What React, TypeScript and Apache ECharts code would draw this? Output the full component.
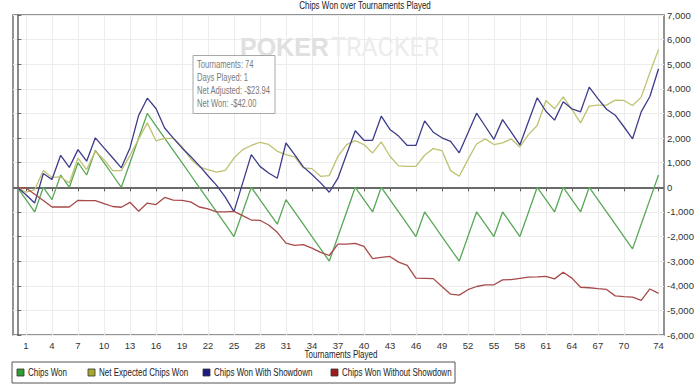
import React, { useEffect, useRef } from "react";
import * as echarts from "echarts";

// Tournament index 0..74
const chipsWon = [
  0, -500, -1000, 0, -500, 500, 0, 1000, 500, 1500, 1000, 500, 0, 1000, 2000, 3000,
  2500, 2000, 1500, 1000, 500, 0, -500, -1000, -1500, -2000, -1000, 0, -500, -1000,
  -1500, -500, -1000, -1500, -2000, -2500, -3000, -2000, -1000, 0, -500, -1000, 0,
  -500, -1000, -1500, -2000, -1000, -1500, -2000, -2500, -3000, -2000, -1000, -1500,
  -2000, -1000, -1500, -2000, -1000, 0, -500, -1000, 0, -500, -1000, 0, -500, -1000,
  -1500, -2000, -2500, -1500, -500, 500,
];
const netExpected = [
  0, -200, -100, 680, 400, 420, 176, 1190, 720, 1464, 1125, 680, 680, 1300, 1950, 2617,
  1890, 1990, 1990, 1650, 1150, 830, 720, 620, 690, 1190, 1530, 1700, 1830, 1740,
  1464, 1329, 1234, 786, 759, 447, 475, 1261, 1736, 1898, 1736, 1397, 1844, 1261,
  870, 854, 854, 1302, 1573, 1492, 678, 447, 1125, 1760, 1966, 1736, 1804, 1966,
  1641, 2150, 2510, 3528, 3189, 3677, 3161, 2619, 3297, 3338, 3338, 3541, 3528, 3324,
  3663, 4654, 5604,
];
const withShowdown = [
  0, -300, -640, 560, 320, 1300, 810, 1530, 1060, 2010, 1600, 1200, 790, 1600, 2920,
  3620, 3200, 2410, 2000, 1600, 1250, 880, 470, 80, -400, -990, 170, 1330, 850, 580,
  370, 1800, 1330, 830, 520, 180, -200, 370, 1340, 2300, 1910, 1910, 2890, 2350, 2080,
  1700, 1700, 2700, 2240, 2010, 1870, 1400, 2210, 3010, 2480, 1950, 2750, 2240, 1720,
  2680, 3636, 3090, 2730, 3474, 3190, 3066, 4070, 3600, 3170, 2930, 2460, 1970, 3066,
  3690, 4817,
];
const withoutShowdown = [
  0, -30, -280, -540, -800, -800, -800, -530, -540, -540, -660, -780, -810, -610, -970,
  -640, -700, -410, -520, -530, -590, -800, -880, -1000, -1000, -980, -1150, -1330,
  -1340, -1530, -1830, -2270, -2360, -2330, -2470, -2640, -2770, -2310, -2310, -2280,
  -2400, -2900, -2850, -2810, -3040, -3170, -3690, -3700, -3710, -4030, -4340, -4380,
  -4160, -4030, -3960, -3960, -3760, -3750, -3700, -3650, -3640, -3620, -3720, -3450,
  -3690, -4060, -4080, -4120, -4150, -4410, -4440, -4460, -4590, -4130, -4310,
];

const xTickValues = [1, 4, 7, 10, 13, 16, 19, 22, 25, 28, 31, 34, 37, 40, 43, 46, 49, 52, 55, 58, 61, 64, 67, 70, 74];
const seriesNames = [
  "Chips Won",
  "Net Expected Chips Won",
  "Chips Won With Showdown",
  "Chips Won Without Showdown",
];
const seriesValues = [chipsWon, netExpected, withShowdown, withoutShowdown];
const lineColors = ["#58a858", "#bfc270", "#3c3c8a", "#a84a4a"];
const legendColors = ["#2f9e2f", "#a8a830", "#1c1c80", "#a01c1c"];
const tooltipLines = ["Tournaments: 74", "Days Played: 1", "Net Adjusted: -$23.94", "Net Won: -$42.00"];

const FONT = "'Liberation Sans', Arial, sans-serif";
const NARROW = 0.8;

// legend layout (offsets within the legend box)
const legendIconX = [5, 76, 191, 319];

export default function App() {
  const ref = useRef<HTMLDivElement>(null);
  useEffect(() => {
    if (!ref.current) return;
    const chart = echarts.init(ref.current, undefined, { renderer: "svg" });
    const series: any[] = seriesValues.map((vals, si) => ({
      name: seriesNames[si],
      type: "line",
      data: vals.map((v, i) => [i, v]),
      symbol: "none",
      lineStyle: { width: 1.3, color: lineColors[si] },
      itemStyle: { color: lineColors[si] },
      z: 3,
    }));
    series[0].markLine = {
      silent: true,
      symbol: ["none", "none"],
      label: { show: false },
      lineStyle: { color: "#6a6a6a", width: 2, type: "solid" },
      data: [{ yAxis: 0 }],
      z: 2,
    };

    const legendChildren: any[] = [
      {
        type: "rect",
        shape: { x: 0, y: 0, width: 443, height: 21 },
        style: { fill: "#ffffff", stroke: "#555", lineWidth: 1 },
      },
    ];
    seriesNames.forEach((n, i) => {
      legendChildren.push({
        type: "rect",
        shape: { x: legendIconX[i], y: 7, width: 7, height: 7 },
        style: { fill: legendColors[i], stroke: "#333", lineWidth: 0.8 },
      });
      legendChildren.push({
        type: "text",
        x: legendIconX[i] + 11,
        y: 11,
        scaleX: NARROW,
        style: {
          text: n,
          fontFamily: FONT,
          fontSize: 10,
          fill: "#222",
          textVerticalAlign: "middle",
        },
      });
    });

    const tooltipTexts = tooltipLines.map((t, i) => ({
      type: "text",
      z: 101,
      x: 197,
      y: 64.5 + i * 13.2,
      scaleX: 0.76,
      style: {
        text: t,
        fontFamily: FONT,
        fontSize: 10,
        fill: "#7a7a7a",
        textVerticalAlign: "middle",
      },
    }));

    const option: any = {
      animation: false,
      backgroundColor: "#ffffff",
      grid: {
        left: 13,
        right: 36,
        top: 15,
        bottom: 57,
        show: true,
        borderColor: "#707070",
        borderWidth: 1.5,
        backgroundColor: "transparent",
      },
      xAxis: {
        type: "value",
        min: -0.5,
        max: 74.63,
        axisLine: { show: false },
        axisTick: { show: true, length: 4, customValues: xTickValues, lineStyle: { color: "#555" } },
        axisLabel: {
          customValues: xTickValues,
          fontFamily: FONT,
          fontSize: 9.5,
          color: "#333",
          margin: 5,
        },
        splitLine: { show: true, lineStyle: { color: "#ececec", width: 1 } },
      },
      yAxis: {
        type: "value",
        position: "right",
        min: -6000,
        max: 7000,
        interval: 1000,
        axisLine: { show: true, lineStyle: { color: "#666", width: 1.5 } },
        axisTick: { show: true, length: 4, lineStyle: { color: "#666" } },
        axisLabel: {
          fontFamily: FONT,
          fontSize: 9.5,
          color: "#333",
          margin: 3,
          formatter: (v: number) => v.toLocaleString("en-US"),
        },
        splitLine: { show: true, lineStyle: { color: "#ececec", width: 1 } },
      },
      graphic: [
        {
          type: "text",
          x: 365,
          y: 6,
          scaleX: NARROW,
          z: 50,
          style: {
            text: "Chips Won over Tournaments Played",
            fontFamily: FONT,
            fontSize: 10,
            fill: "#222",
            textAlign: "center",
            textVerticalAlign: "middle",
          },
        },
        {
          type: "text",
          x: 341,
          y: 355,
          scaleX: NARROW,
          z: 50,
          style: {
            text: "Tournaments Played",
            fontFamily: FONT,
            fontSize: 10,
            fill: "#222",
            textAlign: "center",
            textVerticalAlign: "middle",
          },
        },
        {
          type: "text",
          x: 240,
          y: 47,
          z: 1,
          style: {
            text: "POKER",
            fontFamily: FONT,
            fontWeight: "bold",
            fontSize: 25,
            lineHeight: 18,
            fill: "#e0e0e0",
            textVerticalAlign: "middle",
          },
        },
        {
          type: "text",
          x: 331,
          y: 47,
          z: 1,
          style: {
            text: "TRACKER",
            fontFamily: "Roboto, sans-serif",
            fontSize: 25,
            lineHeight: 18,
            fill: "#ececec",
            textVerticalAlign: "middle",
          },
        },
        {
          type: "rect",
          z: 100,
          shape: { x: 193, y: 55.5, width: 82, height: 58 },
          style: { fill: "#ffffff", stroke: "#a8a8a8", lineWidth: 1 },
        },
        ...tooltipTexts,
        {
          type: "group",
          x: 12,
          y: 362,
          z: 50,
          children: legendChildren.map((c) => ({ ...c, z: 50 })),
        },
      ],
      series,
    };
    chart.setOption(option);
    return () => chart.dispose();
  }, []);
  return (
    <div
      ref={ref}
      style={{ position: "fixed", left: 0, top: 0, width: 700, height: 392 }}
    />
  );
}
